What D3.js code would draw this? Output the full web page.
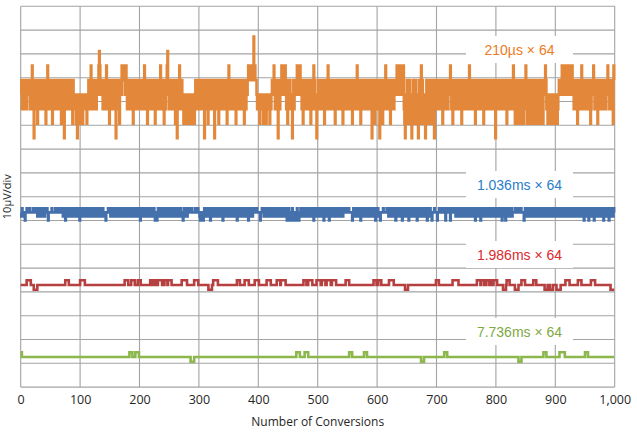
<!DOCTYPE html>
<html>
<head>
<meta charset="utf-8">
<script src="https://cdn.jsdelivr.net/npm/d3@7"></script>
<style>
  body { margin: 0; background: #fff; }
  svg { display: block; }
  text { font-family: "Open Sans", sans-serif; }
</style>
</head>
<body>
<svg id="chart" width="637" height="438"></svg>
<script>
// x axis: conversion index, y axis: microvolts (10 µV per division)
const xTickValues = [0, 100, 200, 300, 400, 500, 600, 700, 800, 900, 1000];
const yGridValues = [0, 10, 20, 30, 40, 50, 60, 70, 80, 90, 100, 110, 120, 130, 140, 150, 160];

const seriesLabels = ['210µs × 64', '1.036ms × 64', '1.986ms × 64', '7.736ms × 64'];

// levels in µV around each trace's resting value
const orangeBase = 122.9;
const orangeStep = 6.09;
const blueBase = 73.4;
const blueStep = 1.7;
const redBase = 42.9;
const redStep = 2.0;
const greenBase = 12.65;
const greenStep = 2.0;

// 210µs trace, one digit per conversion, level = digit - 3
const orangeCodes = [
  '3423243243 2433342345 3203423413 4234322432 4313453243',
  '2431423432 4234234312 4320342432 3423432143 2321302321',
  '3232132323 2132434253 4232434244 3565434424 3242534231',
  '4324323423 0342341343 5454534532 4323423431 2434232432',
  '4323423453 2431432342 3423431243 4232453423 4134245643',
  '2342342343 1340342532 3423123231 2313232132 3213432432',
  '4324323420 3423413432 4324230342 3431243423 2432434132',
  '5342324324 3413243422 3423431432 4345445445 4474544323',
  '2313232312 3231232321 3234345324 3240342345 3454354231',
  '4324323034 2343454354 5342314324 3243243413 4235432203',
  '4324234323 4134234532 3432423431 2434232342 4312434234',
  '3243243413 4234325342 3413423432 4323423423 4034231432',
  '4323042341 3423534232 4314324324 4345435443 5434521032',
  '4132413203 4123143210 3421534132 1034213431 2413420342',
  '3423243423 1432432342 3435423143 2434232432 4314324342',
  '3423453242 3432413423 4323423431 2434232432 4234324320',
  '3423423432 4323423413 4234324325 3413241341 3421341324',
  '5314321431 3421341324 1342314321 3435423123 2132312321',
  '3231234343 4543454345 4344543454 3234234132 4324532432',
  '4323423431 2434532432 4134234323 4234324354 3243243154'
].join('').replace(/\s/g, '');

// 1.036ms trace, level = digit - 2
const blueCodes = [
  '2132121022 3222232222 2322233213 2132312332 1322320222',
  '2232222232 2223322223 2132102312 3213231232 1323213210',
  '2313213231 2321323312 3213231232 1323213232 1220222322',
  '3123213231 2321323123 2132321323 1232132312 3213232132',
  '1023213231 2321323123 2132310210 2313231232 1323213231',
  '2321323123 2132321323 1210231232 1323222322 2223222232',
  '2102101023 2132312310 2321323123 2132321323 0232132312',
  '3213231232 1321023123 2132312321 3210231323 1232222322',
  '2220223221 3231232132 3123213231 2321323123 2132312302',
  '1302102312 0210231202 1323123213 2312321323 1230231232',
  '1323123213 0231232130 2312321323 1232132312 3213222322',
  '2232222202 3123213231 2302312321 3231232132 3123213023',
  '1321202222 3222223221 3231232132 3023123213 2302312321',
  '3210231232 1323123023 2132312321 3231023123 2102223222',
  '2022322223 2223202232 2230223222 3213231232 1323123213',
  '2312321323 1232102312 3231023123 2132312321 3231232132',
  '3123213231 0231230231 2321323122 2232222322 2232222023',
  '1232132312 3213231232 1323123213 2312321323 1232132312',
  '3213231232 1323123213 2312321323 1232132312 3213231202',
  '3123210231 2321302312 3231232132 3023123213 0231232132'
].join('').replace(/\s/g, '');

// 1.986ms and 7.736ms traces: [first, last, level] away from the resting value
const redRuns = [
  [10, 16, 1], [22, 27, -1], [75, 80, 1], [100, 107, 1], [175, 180, 1], [186, 191, 1],
  [197, 201, 1], [218, 221, 1], [223, 226, 1], [231, 237, 1], [242, 246, 1], [248, 253, 1],
  [271, 279, 1], [292, 298, 1], [316, 321, -1], [324, 331, 1], [364, 368, 1], [377, 383, 1],
  [394, 400, 1], [414, 420, 1], [431, 436, 1], [438, 445, 1], [476, 480, 1], [484, 490, 1],
  [498, 504, 1], [507, 512, 1], [515, 521, 1], [524, 530, 1], [547, 552, 1], [594, 598, 1],
  [602, 606, 1], [620, 627, 1], [647, 651, -1], [699, 703, 1], [727, 736, 1], [768, 773, 1],
  [775, 779, 1], [784, 788, 1], [790, 793, 1], [796, 801, 1], [812, 816, -1], [818, 822, 1],
  [832, 837, -1], [843, 848, 1], [863, 867, 1], [882, 886, -1], [891, 895, -1], [902, 908, -1],
  [917, 923, 1], [938, 943, 1], [960, 966, 1], [993, 999, -1]
];
const greenRuns = [
  [0, 1, 1], [183, 187, 1], [193, 198, 1], [286, 291, -1], [464, 469, 1], [478, 483, 1],
  [553, 557, 1], [578, 582, 1], [674, 678, -1], [713, 717, 1], [838, 842, -1], [880, 884, 1],
  [907, 915, 1], [950, 954, 1]
];

const N = 1000;

function fromCodes(codes, base, step, offset) {
  return Array.from(codes.slice(0, N)).map((c) => base + (Number(c) - offset) * step);
}

function fromRuns(runs, base, step) {
  const vals = new Array(N).fill(base);
  runs.forEach(([a, b, lvl]) => {
    for (let i = a; i <= b; i++) vals[i] = base + lvl * step;
  });
  return vals;
}

const series = [
  { label: seriesLabels[0], values: fromCodes(orangeCodes, orangeBase, orangeStep, 3), line: '#e3883b', text: '#ec7a24', ly: 50 },
  { label: seriesLabels[1], values: fromCodes(blueCodes, blueBase, blueStep, 2), line: '#4470ab', text: '#2a7dc9', ly: 185 },
  { label: seriesLabels[2], values: fromRuns(redRuns, redBase, redStep), line: '#b5403f', text: '#dc2a2e', ly: 255 },
  { label: seriesLabels[3], values: fromRuns(greenRuns, greenBase, greenStep), line: '#8cb74c', text: '#7ea944', ly: 332 }
];

const svg = d3.select('#chart');
const margin = { top: 6.3, right: 22.3, bottom: 50.9, left: 20.7 };
const width = 637, height = 438;

const x = d3.scaleLinear().domain([0, 1000]).range([margin.left, width - margin.right]);
const y = d3.scaleLinear().domain([0, 160]).range([height - margin.bottom, margin.top]);

const grid = svg.append('g').attr('stroke', '#a3a3a3').attr('stroke-width', 1.1);
grid.selectAll('line.h')
  .data(yGridValues)
  .enter()
  .append('line')
  .attr('class', 'h')
  .attr('x1', x(0)).attr('x2', x(1000))
  .attr('y1', (d) => y(d)).attr('y2', (d) => y(d));
grid.selectAll('line.v')
  .data(xTickValues)
  .enter()
  .append('line')
  .attr('class', 'v')
  .attr('x1', (d) => x(d)).attr('x2', (d) => x(d))
  .attr('y1', y(0)).attr('y2', y(160));

// label boxes hide the grid behind the text
const labels = svg.append('g');
series.forEach((s) => {
  labels.append('rect')
    .attr('x', 466).attr('y', s.ly - 14)
    .attr('width', 107).attr('height', 27)
    .attr('fill', '#fff');
});

const line = d3.line()
  .x((d, i) => x(i))
  .y((d) => y(d))
  .curve(d3.curveStepAfter);

svg.append('g')
  .selectAll('path')
  .data(series)
  .enter()
  .append('path')
  .attr('d', (d) => line(d.values))
  .attr('fill', 'none')
  .attr('stroke', (d) => d.line)
  .attr('stroke-width', 2.6);

series.forEach((s) => {
  labels.append('text')
    .attr('x', 519.5).attr('y', s.ly)
    .attr('dy', '0.35em')
    .attr('text-anchor', 'middle')
    .style('font-family', '"Liberation Sans", Arial, sans-serif')
    .style('font-size', '14px')
    .attr('fill', s.text)
    .text(s.label);
});
labels.raise();

const xAxis = d3.axisBottom(x).tickValues(xTickValues).tickSize(0).tickPadding(8);
const gx = svg.append('g')
  .attr('transform', `translate(0,${y(0)})`)
  .call(xAxis);
gx.select('.domain').remove();
gx.selectAll('text')
  .style('font-family', '"Open Sans", sans-serif')
  .style('font-size', '12.5px')
  .attr('fill', '#262626');

svg.append('text')
  .attr('x', (x(0) + x(1000)) / 2)
  .attr('y', 426)
  .attr('text-anchor', 'middle')
  .style('font-size', '12px')
  .attr('fill', '#262626')
  .text('Number of Conversions');

svg.append('text')
  .attr('transform', `translate(11,${(y(0) + y(160)) / 2}) rotate(-90)`)
  .attr('text-anchor', 'middle')
  .style('font-size', '11px')
  .attr('fill', '#262626')
  .text('10µV/div');
</script>
</body>
</html>
